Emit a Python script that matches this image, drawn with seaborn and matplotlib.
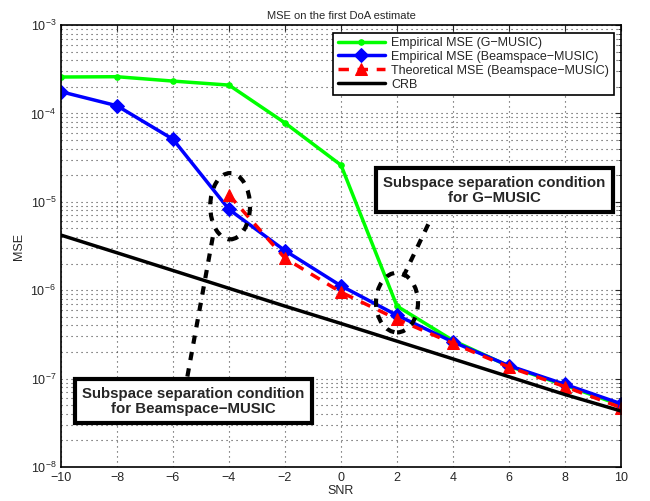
import numpy as np
import pandas as pd
import matplotlib
matplotlib.use("Agg")
import matplotlib.pyplot as plt
import seaborn as sns
from matplotlib.patches import Ellipse

# values
snr = [-10, -8, -6, -4, -2, 0, 2, 4, 6, 8, 10]
mse_gmusic = [2.58e-4, 2.6e-4, 2.32e-4, 2.09e-4, 7.8e-5, 2.6e-5, 6.6e-7, 2.7e-7, 1.38e-7, 8.4e-8, 5.0e-8]
mse_beam = [1.76e-4, 1.22e-4, 5.1e-5, 8.2e-6, 2.8e-6, 1.12e-6, 5.2e-7, 2.6e-7, 1.4e-7, 8.6e-8, 5.2e-8]
snr_theo = [-4, -2, 0, 2, 4, 6, 8, 10]
mse_theo = [1.19e-5, 2.3e-6, 9.5e-7, 4.7e-7, 2.5e-7, 1.35e-7, 8.1e-8, 4.7e-8]
crb = [4.2e-6, 2.65e-6, 1.67e-6, 1.05e-6, 6.6e-7, 4.2e-7, 2.65e-7, 1.67e-7, 1.05e-7, 6.6e-8, 4.3e-8]

sns.set_style("white")
plt.rcParams['font.family'] = ['Liberation Sans', 'DejaVu Sans']
plt.rcParams['mathtext.fontset'] = 'dejavusans'

fig = plt.figure(figsize=(6.5, 5.01), dpi=100)
ax = fig.add_axes([61 / 650, 34 / 501, 560 / 650, 442 / 501])

sns.lineplot(x=snr, y=mse_gmusic, ax=ax, color='#00ff00', lw=2.5, marker='o', ms=4,
             mec='#00ff00', label='Empirical MSE (G\u2212MUSIC)')
sns.lineplot(x=snr, y=mse_beam, ax=ax, color='#0000ff', lw=2.5, marker='D', ms=7,
             mec='#0000ff', label='Empirical MSE (Beamspace\u2212MUSIC)')
sns.lineplot(x=snr_theo, y=mse_theo, ax=ax, color='#ff0000', lw=2.5, marker='^', ms=9,
             mec='#ff0000', label='Theoretical MSE (Beamspace\u2212MUSIC)')
ax.lines[-1].set_linestyle((0, (3, 2.5)))
sns.lineplot(x=snr, y=crb, ax=ax, color='black', lw=2.5, label='CRB')

ax.set_yscale('log')
ax.set_xlim(-10, 10)
ax.set_ylim(1e-8, 1e-3)
ax.set_xticks(range(-10, 11, 2))
ax.set_xticklabels([str(v).replace('-', '\u2212') for v in range(-10, 11, 2)])
ax.tick_params(labelsize=9, direction='in', which='both', top=True, right=True, length=4)
ax.tick_params(which='minor', length=2)
ax.grid(True, which='major', ls=(0, (1, 3.5)), color='#444444', lw=0.8)
ax.grid(True, which='minor', axis='y', ls=(0, (1, 3.5)), color='#444444', lw=0.8)
for s in ax.spines.values():
    s.set_linewidth(1.2)
    s.set_color('black')

ax.set_title('MSE on the first DoA estimate', fontsize=8, pad=4)
ax.set_xlabel('SNR', fontsize=9, labelpad=1)
ax.set_ylabel('MSE', fontsize=9, labelpad=4)

leg = ax.legend(loc='upper right', fontsize=9, fancybox=False, framealpha=1,
                edgecolor='black', borderaxespad=0.6, handlelength=3.8, labelspacing=0.15,
                borderpad=0.35, handletextpad=0.5)
leg.get_frame().set_linewidth(1.2)

# annotations
box = dict(boxstyle='square,pad=0.5', fc='white', ec='black', lw=3)
ax.text(0.774, 0.626, 'Subspace separation condition\nfor G\u2212MUSIC', transform=ax.transAxes,
        ha='center', va='center', fontsize=10.8, fontweight='bold', bbox=box, zorder=6,
        linespacing=1.1)
ax.text(0.236, 0.149, 'Subspace separation condition\nfor Beamspace\u2212MUSIC', transform=ax.transAxes,
        ha='center', va='center', fontsize=10.8, fontweight='bold', bbox=box, zorder=6,
        linespacing=1.1)

for cx, cy, w, h in [(0.302, 0.59, 0.071, 0.15), (0.6, 0.372, 0.075, 0.135)]:
    ax.add_patch(Ellipse((cx, cy), w, h, transform=ax.transAxes, fill=False, ec='black',
                         lw=3, ls=(0, (2, 2)), zorder=5))
ax.plot([0.271, 0.225], [0.52, 0.2], transform=ax.transAxes, color='black', lw=3,
        ls=(0, (2, 2)), zorder=5)
ax.plot([0.611, 0.661], [0.43, 0.563], transform=ax.transAxes, color='black', lw=3,
        ls=(0, (2, 2)), zorder=5)

fig.savefig('out.png', dpi=100)
